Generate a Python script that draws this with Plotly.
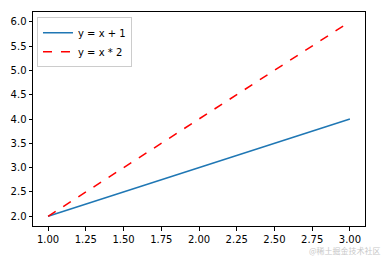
import plotly.graph_objects as go

x = [1, 2, 3]
y_lin = [2, 3, 4]
y_dbl = [2, 4, 6]
names = ["y = x + 1", "y = x * 2"]
x_ticks = [1.00, 1.25, 1.50, 1.75, 2.00, 2.25, 2.50, 2.75, 3.00]
y_ticks = [2.0, 2.5, 3.0, 3.5, 4.0, 4.5, 5.0, 5.5, 6.0]

fig = go.Figure()
fig.add_trace(go.Scatter(x=x, y=y_lin, mode="lines", name=names[0],
                         line=dict(color="#1f77b4", width=1.5)))
fig.add_trace(go.Scatter(x=x, y=y_dbl, mode="lines", name=names[1],
                         line=dict(color="#ff0000", width=1.5, dash="dash")))

axis_common = dict(showgrid=False, zeroline=False, showline=True, linecolor="black",
                   linewidth=1, mirror=True, ticks="outside", ticklen=3.5,
                   tickcolor="black", tickwidth=1,
                   tickfont=dict(family="DejaVu Sans", size=10, color="black"))

fig.update_layout(
    width=388, height=256,
    margin=dict(l=30, r=23, t=11, b=28),
    plot_bgcolor="white", paper_bgcolor="white",
    xaxis=dict(range=[0.9, 3.1], tickvals=x_ticks, tickformat=".2f", **axis_common),
    yaxis=dict(range=[1.8, 6.2], tickvals=y_ticks, tickformat=".1f", **axis_common),
    legend=dict(x=0.012, y=0.975, xanchor="left", yanchor="top",
                bgcolor="rgba(255,255,255,0.8)", bordercolor="#cccccc", borderwidth=1,
                font=dict(family="DejaVu Sans", size=10, color="black"),
                tracegroupgap=0, itemwidth=30),
    showlegend=True,
)
fig.add_annotation(text="@稀土掘金技术社区", xref="paper", yref="paper",
                   x=1.05, y=0, xanchor="right", yanchor="top", yshift=-18,
                   showarrow=False, borderpad=0,
                   font=dict(family="Noto Sans CJK SC", size=8, color="#c8c8c8"))

fig.write_html("out.html")
